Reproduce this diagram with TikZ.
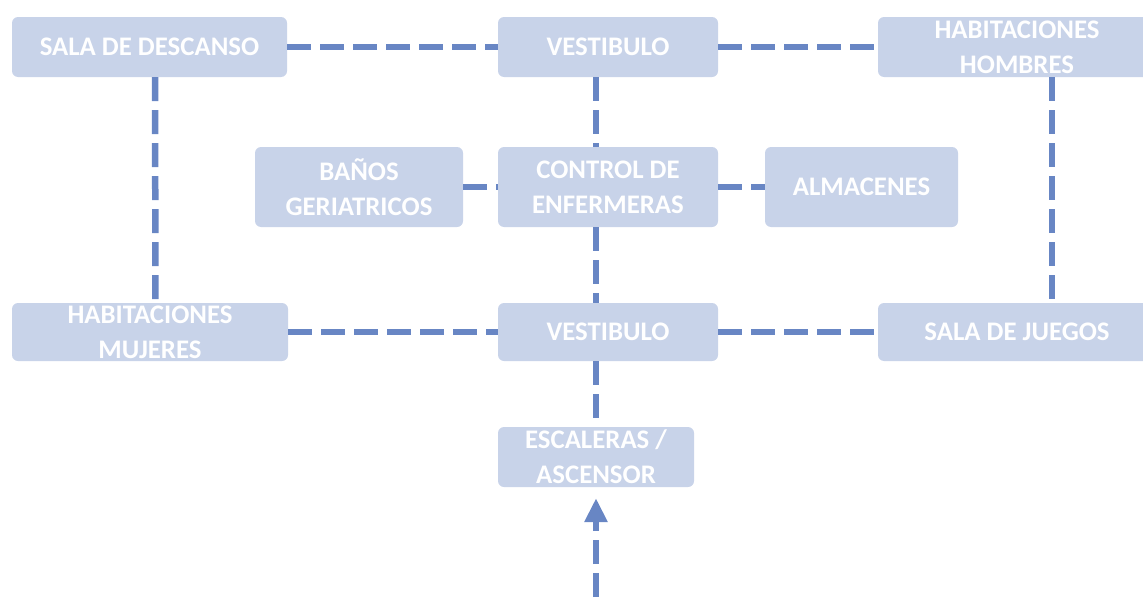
\documentclass[tikz,border=0pt]{standalone}
\usepackage{fontspec}
\setmainfont{Carlito}
\usetikzlibrary{arrows.meta}
\definecolor{linkblue}{RGB}{104,134,196}
\definecolor{roomfill}{RGB}{200,211,233}

\begin{document}
\begin{tikzpicture}[
	x=1pt,
	y=-1pt,
	room/.style={rectangle, rounded corners=6pt, fill=roomfill, text=white, inner sep=0pt, minimum height=60pt, align=center, font=\fontsize{26.8}{35}\selectfont\bfseries},
	link/.style={draw=linkblue, line width=6.5pt, dash pattern=on 24pt off 9pt}
	]
	\useasboundingbox (0,0) rectangle (1143,597);

	% fila superior
	\node[room, minimum width=275pt] (descanso) at (149.5,47) {SALA DE DESCANSO};
	\node[room, minimum width=220pt] (vest1) at (608,47) {VESTIBULO};
	\node[room, minimum width=278pt] (hombres) at (1017,47) {HABITACIONES\\HOMBRES};

	% fila central
	\node[room, minimum width=208pt, minimum height=80pt] (banos) at (359,187) {BAÑOS\\GERIATRICOS};
	\node[room, minimum width=220pt, minimum height=80pt] (control) at (608,187) {CONTROL DE\\ENFERMERAS};
	\node[room, minimum width=193pt, minimum height=80pt] (almacen) at (861.5,187) {ALMACENES};

	% fila inferior
	\node[room, minimum width=276pt, minimum height=58pt] (mujeres) at (150,332) {HABITACIONES\\MUJERES};
	\node[room, minimum width=220pt, minimum height=58pt] (vest2) at (608,332) {VESTIBULO};
	\node[room, minimum width=278pt, minimum height=58pt] (juegos) at (1017,332) {SALA DE JUEGOS};

	\node[room, minimum width=196pt] (escalera) at (596,457) {ESCALERAS /\\ASCENSOR};
	\coordinate (entrada) at (596,597);

	\draw[link] (descanso) -- (vest1);
	\draw[link] (vest1) -- (hombres);
	\draw[link] ([xshift=5.5pt]descanso.south) -- ([xshift=5.5pt]mujeres.north);
	\draw[link] ([xshift=35pt]hombres.south) -- ([xshift=35pt]juegos.north);
	\draw[link] (vest1.south -| escalera) -- (control.north -| escalera);
	\draw[link] (banos) -- (control);
	\draw[link] (control) -- (almacen);
	\draw[link] (control.south -| escalera) -- (vest2.north -| escalera);
	\draw[link] (mujeres) -- (vest2);
	\draw[link] (vest2) -- (juegos);
	\draw[link] (vest2.south -| escalera) -- (escalera);
	\draw[link, -{Triangle[width=22pt, length=24pt]}] (entrada) -- ([yshift=-11pt]escalera.south);
\end{tikzpicture}
\end{document}
